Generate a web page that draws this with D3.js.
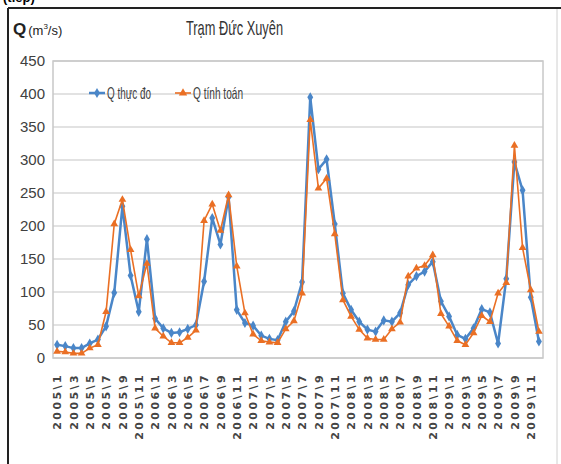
<!DOCTYPE html>
<html>
<head>
<meta charset="utf-8">
<script src="https://cdn.jsdelivr.net/npm/d3@7"></script>
<style>
  body { margin: 0; background: #fff; }
  .narrow { font-family: "Liberation Sans Narrow", "Liberation Sans", Arial, sans-serif; }
  .xlabel { font-family: "DejaVu Sans", Verdana, sans-serif; font-size: 11px; font-weight: bold; letter-spacing: 2.4px; fill: #444; }
</style>
</head>
<body>
<div class="chart"></div>
<script>
var svgWidth = 561;
var svgHeight = 464;

// monthly data 2005\1 .. 2009\12
var years = [2005, 2006, 2007, 2008, 2009];
var months = d3.range(1, 13);
var periods = [];
years.forEach(y => months.forEach(m => periods.push(y + "\\" + m)));

var qMeasured = [
  20, 18, 15, 15, 22, 28, 48, 99, 230, 125, 70, 180,
  60, 45, 38, 39, 44, 50, 116, 212, 172, 244, 73, 53,
  49, 34, 29, 27, 55, 71, 115, 395, 286, 301, 203, 98,
  73, 55, 43, 40, 57, 55, 68, 111, 124, 131, 146, 86,
  63, 35, 29, 45, 74, 69, 22, 120, 297, 254, 92, 25
];
var qComputed = [
  10, 9, 7, 7, 15, 20, 70, 203, 240, 164, 94, 143,
  45, 33, 23, 23, 31, 42, 208, 233, 193, 247, 139, 68,
  36, 26, 24, 23, 44, 56, 98, 361, 257, 272, 188, 88,
  63, 43, 30, 28, 28, 44, 54, 124, 136, 140, 156, 67,
  48, 26, 20, 38, 64, 55, 98, 114, 322, 167, 103, 40
];
var yTicks = [0, 50, 100, 150, 200, 250, 300, 350, 400, 450];
var seriesNames = ["Q thực đo", "Q tính toán"];

var blue = "#4a86c8";
var orange = "#ea6f24";

var plot = { left: 53, right: 543, top: 61, bottom: 358 };

var svg = d3.select(".chart")
    .append("svg")
    .attr("width", svgWidth)
    .attr("height", svgHeight);

// outer frame of the figure (caption above is cut by the page edge)
svg.append("text")
    .attr("class", "narrow")
    .attr("x", 3)
    .attr("y", 2)
    .attr("font-size", 13)
    .attr("font-weight", "bold")
    .text("(tiếp)");
svg.append("line").attr("x1", 8).attr("x2", 8).attr("y1", 8).attr("y2", svgHeight)
    .attr("stroke", "#222").attr("stroke-width", 2);
svg.append("line").attr("x1", 8).attr("x2", svgWidth).attr("y1", 8).attr("y2", 8)
    .attr("stroke", "#222").attr("stroke-width", 2);
svg.append("line").attr("x1", 557).attr("x2", 557).attr("y1", 9).attr("y2", svgHeight)
    .attr("stroke", "#d0d0d0").attr("stroke-width", 1);

// scales
var xScale = d3.scalePoint()
    .domain(periods)
    .range([plot.left, plot.right])
    .padding(0.5);

var yScale = d3.scaleLinear()
    .domain([0, 450])
    .range([plot.bottom, plot.top]);

// gridlines
svg.append("g")
    .selectAll("line")
    .data(yTicks)
    .enter()
    .append("line")
    .attr("x1", plot.left)
    .attr("x2", plot.right)
    .attr("y1", d => yScale(d))
    .attr("y2", d => yScale(d))
    .attr("stroke", "#d9d9d9")
    .attr("stroke-width", 1.5);

// plot area border
svg.append("rect")
    .attr("x", plot.left)
    .attr("y", plot.top)
    .attr("width", plot.right - plot.left)
    .attr("height", plot.bottom - plot.top)
    .attr("fill", "none")
    .attr("stroke", "#c8c8c8")
    .attr("stroke-width", 1.5);

// y axis labels
var leftAxis = d3.axisLeft(yScale).tickValues(yTicks).tickSize(0).tickPadding(8);
var yAxis = svg.append("g")
    .attr("transform", `translate(${plot.left}, 0)`)
    .call(leftAxis);
yAxis.select(".domain").remove();
yAxis.selectAll("text")
    .attr("class", "narrow")
    .attr("font-size", 15)
    .attr("fill", "#404040");

// x axis labels, every other month, rotated
var xTicks = periods.filter((d, i) => i % 2 === 0);
var bottomAxis = d3.axisBottom(xScale).tickValues(xTicks).tickSize(0);
var xAxis = svg.append("g")
    .attr("transform", `translate(0, ${plot.bottom})`)
    .call(bottomAxis);
xAxis.select(".domain").remove();
xAxis.selectAll("text")
    .attr("class", "xlabel")
    .attr("font-size", null)
    .attr("font-family", null)
    .attr("fill", null)
    .attr("transform", "rotate(-90)")
    .attr("text-anchor", "end")
    .attr("x", -15)
    .attr("y", 0)
    .attr("dy", "0.35em");

// lines
var line = d3.line()
    .x((d, i) => xScale(periods[i]))
    .y(d => yScale(d));

svg.append("path")
    .datum(qMeasured)
    .attr("d", line)
    .attr("fill", "none")
    .attr("stroke", blue)
    .attr("stroke-width", 2.5);

svg.append("g")
    .selectAll("path")
    .data(qMeasured)
    .enter()
    .append("path")
    .attr("d", d3.symbol().type(d3.symbolDiamond).size(30))
    .attr("transform", (d, i) => `translate(${xScale(periods[i])},${yScale(d)})`)
    .attr("fill", blue);

svg.append("path")
    .datum(qComputed)
    .attr("d", line)
    .attr("fill", "none")
    .attr("stroke", orange)
    .attr("stroke-width", 1.6);

svg.append("g")
    .selectAll("path")
    .data(qComputed)
    .enter()
    .append("path")
    .attr("d", d3.symbol().type(d3.symbolTriangle).size(26))
    .attr("transform", (d, i) => `translate(${xScale(periods[i])},${yScale(d)})`)
    .attr("fill", orange);

// legend
var legend = [
  { name: seriesNames[0], color: blue, x: 89, symbol: d3.symbolDiamond, w: 2.5, len: 44 },
  { name: seriesNames[1], color: orange, x: 175, symbol: d3.symbolTriangle, w: 1.6, len: 50 }
];
legend.forEach(l => {
  svg.append("line")
      .attr("x1", l.x).attr("x2", l.x + 16)
      .attr("y1", 93).attr("y2", 93)
      .attr("stroke", l.color).attr("stroke-width", l.w);
  svg.append("path")
      .attr("d", d3.symbol().type(l.symbol).size(30))
      .attr("transform", `translate(${l.x + 8},93)`)
      .attr("fill", l.color);
  svg.append("text")
      .attr("class", "narrow")
      .attr("x", l.x + 18)
      .attr("y", 98.5)
      .attr("font-size", 16.5)
      .attr("fill", "#404040")
      .attr("textLength", l.len)
      .attr("lengthAdjust", "spacingAndGlyphs")
      .text(l.name);
});

// title and unit
svg.append("text")
    .attr("class", "narrow")
    .attr("x", 186)
    .attr("y", 35)
    .attr("font-size", 21)
    .attr("fill", "#333")
    .attr("textLength", 97)
    .attr("lengthAdjust", "spacingAndGlyphs")
    .text("Trạm Đức Xuyên");

var unit = svg.append("text")
    .attr("class", "narrow")
    .attr("x", 13)
    .attr("y", 35)
    .attr("fill", "#222");
unit.append("tspan").attr("font-size", 17).attr("font-weight", "bold").text("Q");
unit.append("tspan").attr("font-size", 13).attr("dx", 2).text("(m");
unit.append("tspan").attr("font-size", 8).attr("dy", -6).text("3");
unit.append("tspan").attr("font-size", 13).attr("dy", 6).text("/s)");
</script>
</body>
</html>
